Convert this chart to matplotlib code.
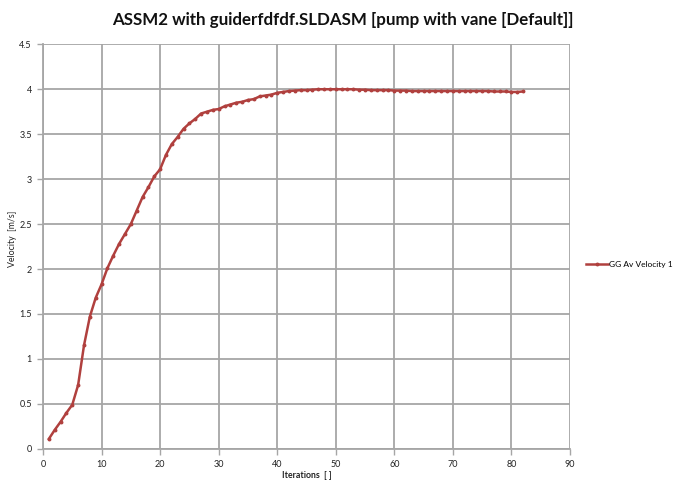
import matplotlib
matplotlib.use("Agg")
import matplotlib.pyplot as plt

iterations = list(range(1, 83))
velocity = [0.11, 0.21, 0.30, 0.40, 0.49, 0.71, 1.15, 1.47, 1.68, 1.83,
            2.01, 2.15, 2.28, 2.39, 2.50, 2.65, 2.80, 2.91, 3.03, 3.11,
            3.27, 3.39, 3.47, 3.56, 3.62, 3.67, 3.73, 3.75, 3.77, 3.78,
            3.81, 3.83, 3.85, 3.86, 3.88, 3.89, 3.92, 3.93, 3.94, 3.96,
            3.97, 3.98, 3.985, 3.99, 3.99, 3.995, 4.0, 4.0, 4.0, 4.0,
            4.0, 4.0, 4.0, 3.995, 3.995, 3.99, 3.99, 3.99, 3.99, 3.985,
            3.985, 3.985, 3.98, 3.98, 3.98, 3.98, 3.98, 3.98, 3.98, 3.98,
            3.98, 3.98, 3.98, 3.98, 3.98, 3.98, 3.975, 3.975, 3.975, 3.97,
            3.97, 3.975]
series_name = "GG Av Velocity 1"
title = "ASSM2 with guiderfdfdf.SLDASM [pump with vane [Default]]"
x_ticks = [0, 10, 20, 30, 40, 50, 60, 70, 80, 90]
y_ticks = [0, 0.5, 1, 1.5, 2, 2.5, 3, 3.5, 4, 4.5]

plt.rcParams['font.family'] = ['Lato', 'DejaVu Sans']

fig = plt.figure(figsize=(6.8, 4.82), dpi=100)
W, H = 680, 482
ax = fig.add_axes([43 / W, (H - 448.8) / H, (570 - 43) / W, (448.8 - 44.3) / H])

line_color = '#B0403E'
ax.plot(iterations, velocity, color=line_color, lw=1.8, marker='o', ms=1.8,
        markerfacecolor=line_color, markeredgecolor=line_color, label=series_name)

ax.set_xlim(0, 90)
ax.set_ylim(0, 4.5)
ax.set_xticks(x_ticks)
ax.set_yticks(y_ticks)
ax.set_xticklabels([str(t) for t in x_ticks])
ax.set_yticklabels(['0', '0.5', '1', '1.5', '2', '2.5', '3', '3.5', '4', '4.5'])
ax.grid(True, color='#A6A6A6', lw=1.3)
ax.set_axisbelow(True)
for s in ['top', 'right']:
    ax.spines[s].set_visible(False)
for s in ['left', 'bottom']:
    ax.spines[s].set_color('#A6A6A6')
    ax.spines[s].set_linewidth(1.3)
ax.tick_params(axis='both', direction='out', length=4, width=1.0, color='#A6A6A6',
               labelsize=6.5, labelcolor='#222222', pad=4)

ax.set_xlabel("Iterations  [ ]", fontsize=6.3, fontweight='bold', color='#222222',
              va='center')
ax.xaxis.set_label_coords(0.5, -0.067)
ax.set_ylabel("Velocity  [m/s]", fontsize=6.3, color='#222222', va='center')
ax.yaxis.set_label_coords(-0.058, 0.52)

fig.suptitle(title, x=343 / W, y=1 - 12 / H, fontsize=12.2,
             fontweight='bold', color='#111111', va='top')

leg = fig.legend(loc='center left', bbox_to_anchor=(586 / W, 1 - 264 / H),
                 frameon=False, fontsize=6, handlelength=2.6, handletextpad=0.15,
                 borderaxespad=0, borderpad=0)

fig.savefig("out.png", dpi=100)
